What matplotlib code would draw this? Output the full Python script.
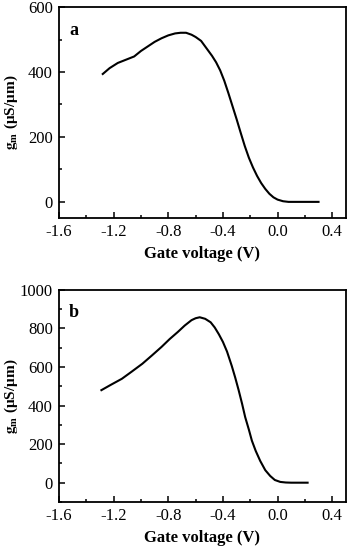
import matplotlib
matplotlib.use("Agg")
import matplotlib.pyplot as plt
from matplotlib.ticker import MultipleLocator

plt.rcParams['font.family'] = ['Liberation Serif', 'DejaVu Serif']
plt.rcParams['mathtext.fontset'] = 'stix'

# Panel a data
va = [-1.28, -1.23, -1.17, -1.11, -1.05, -1.0, -0.95, -0.9, -0.85, -0.8, -0.75, -0.71, -0.67,
      -0.63, -0.6, -0.56, -0.52, -0.48, -0.45, -0.42, -0.39, -0.36, -0.33, -0.3, -0.27,
      -0.24, -0.21, -0.18, -0.15, -0.12, -0.09, -0.06, -0.03, 0.0, 0.04, 0.08, 0.15, 0.3]
ga = [394, 412, 428, 438, 448, 465, 479, 493, 504, 513, 519, 521, 521,
      515, 508, 496, 473, 450, 430, 405, 373, 335, 295, 255, 213,
      172, 136, 106, 80, 58, 40, 25, 14, 7, 2, 0, 0, 0]

# Panel b data
vb = [-1.29, -1.22, -1.14, -1.07, -0.99, -0.92, -0.85, -0.79, -0.73, -0.68, -0.63, -0.6,
      -0.57, -0.53, -0.49, -0.46, -0.43, -0.4, -0.37, -0.335, -0.31, -0.285, -0.26, -0.237,
      -0.21, -0.188, -0.16, -0.127, -0.09, -0.054, -0.02, 0.02, 0.06, 0.1, 0.22]
gb = [480, 508, 539, 575, 617, 660, 704, 745, 782, 815, 843, 853,
      858, 850, 832, 805, 770, 730, 680, 605, 545, 480, 410, 340,
      275, 218, 165, 113, 65, 35, 14, 4, 1, 0, 0]

panels = [
    dict(v=va, g=ga, label='a', ylim=(-50, 600), ymaj=200, ymin=100,
         rect=[0.165, 0.602, 0.801, 0.385]),
    dict(v=vb, g=gb, label='b', ylim=(-100, 1000), ymaj=200, ymin=100,
         rect=[0.165, 0.084, 0.801, 0.387]),
]

fig = plt.figure(figsize=(3.58, 5.48), dpi=100)
for p in panels:
    ax = fig.add_axes(p['rect'])
    ax.plot(p['v'], p['g'], color='black', lw=1.5)
    ax.set_xlim(-1.6, 0.5)
    ax.set_ylim(*p['ylim'])
    ax.xaxis.set_major_locator(MultipleLocator(0.4))
    ax.xaxis.set_minor_locator(MultipleLocator(0.2))
    ax.yaxis.set_major_locator(MultipleLocator(p['ymaj']))
    ax.yaxis.set_minor_locator(MultipleLocator(p['ymin']))
    ax.xaxis.set_major_formatter(plt.FuncFormatter(lambda x, pos: f"{x:.1f}"))
    ax.tick_params(which='both', direction='in', top=False, right=False, labelsize=12)
    ax.tick_params(which='major', length=4, width=1.1, pad=4.5)
    ax.tick_params(which='minor', length=2.5, width=1.1)
    for s in ax.spines.values():
        s.set_linewidth(1.3)
    ax.set_xlabel('Gate voltage (V)', fontsize=12, fontweight='bold', labelpad=4)
    ax.set_ylabel(r'$\mathbf{g_m}$ (μS/μm)', fontsize=11, fontweight='bold')
    ax.yaxis.set_label_coords(-0.135, 0.5)
    ax.text(0.035, 0.87, p['label'], transform=ax.transAxes, fontsize=13, fontweight='bold')

fig.savefig('out.png', dpi=100)
